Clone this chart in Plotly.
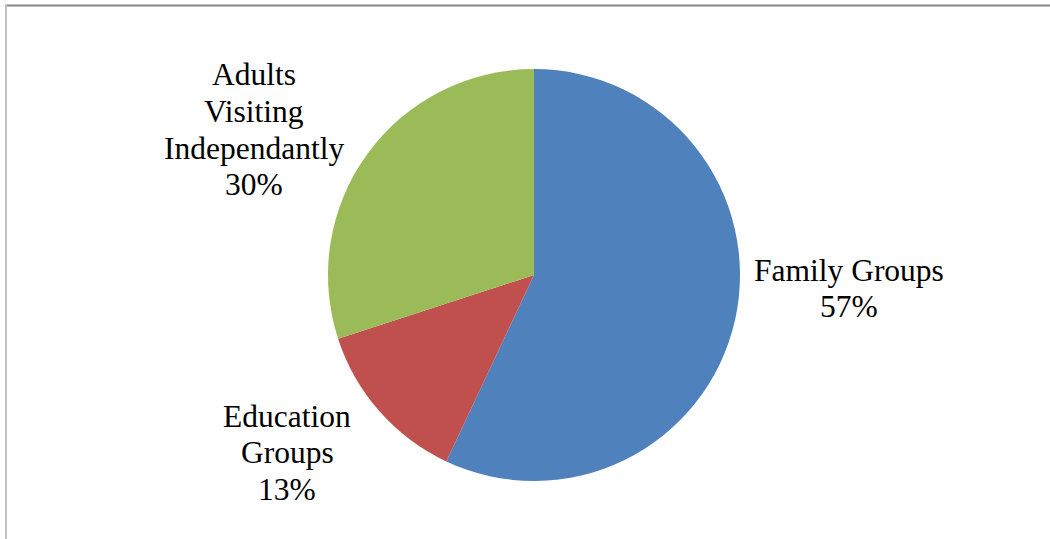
import plotly.graph_objects as go

# Visitor breakdown
categories = ["Family Groups", "Education Groups", "Adults Visiting Independantly"]
shares = [57, 13, 30]
colors = ["#4F81BD", "#C0504D", "#9BBB59"]

# Label lines (category words split over lines) and their anchor points in px
label_lines = [
    ["Family Groups"],
    ["Education", "Groups"],
    ["Adults", "Visiting", "Independantly"],
]
label_centers = [(849, 270), (287, 416), (254, 75)]  # (x, y of first line)
LINE_STEP = 36.5

W, H = 1050, 539

fig = go.Figure(
    go.Pie(
        labels=categories,
        values=shares,
        sort=False,
        direction="clockwise",
        rotation=0,
        marker=dict(colors=colors, line=dict(width=0)),
        textinfo="none",
        hoverinfo="skip",
        showlegend=False,
        domain=dict(x=[328 / W, 740 / W], y=[1 - 481 / H, 1 - 69 / H]),
    )
)

annotations = []
for lines, (cx, cy), val in zip(label_lines, label_centers, shares):
    for i, txt in enumerate(lines + [f"{val}%"]):
        annotations.append(
            dict(
                x=cx / W,
                y=1 - (cy + i * LINE_STEP) / H,
                xref="paper",
                yref="paper",
                text=txt,
                showarrow=False,
                xanchor="center",
                yanchor="middle",
                font=dict(family="Liberation Serif, Times New Roman, serif", size=31.5, color="#000000"),
            )
        )

# Chart frame edges
shapes = [
    dict(type="line", xref="paper", yref="paper", x0=5 / W, x1=1, y0=1 - 5.5 / H, y1=1 - 5.5 / H,
         line=dict(color="#878787", width=2)),
    dict(type="line", xref="paper", yref="paper", x0=6 / W, x1=6 / W, y0=0, y1=1 - 5 / H,
         line=dict(color="#c3c3c3", width=2)),
]

fig.update_layout(
    width=W,
    height=H,
    margin=dict(l=0, r=0, t=0, b=0),
    paper_bgcolor="#ffffff",
    plot_bgcolor="#ffffff",
    annotations=annotations,
    shapes=shapes,
)

fig.write_html("out.html")
